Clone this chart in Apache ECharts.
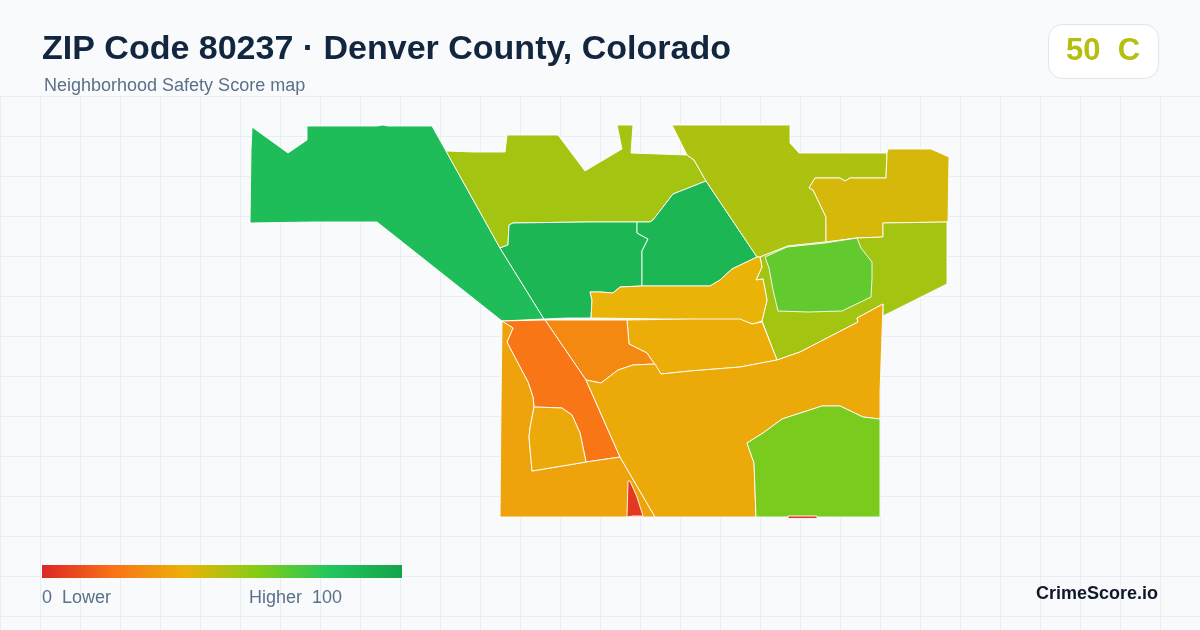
<!DOCTYPE html>
<html><head><meta charset="utf-8">
<style>html,body{margin:0;padding:0;background:#f8fafc}#c{width:1200px;height:630px}</style>
<script src="https://cdn.jsdelivr.net/npm/echarts@6/dist/echarts.min.js"></script>
</head><body><div id="c"></div>
<script>
var titleText = 'ZIP Code 80237 · Denver County, Colorado';
var subtitleText = 'Neighborhood Safety Score map';
var overallScore = 50, overallGrade = 'C';
var brandText = 'CrimeScore.io';
var rampColors = ['#dc2626','#f97316','#eab308','#84cc16','#22c55e','#16a34a'];
var regionNames = ['West','NorthMid','CentralWest','CentralNorth','NorthEast','FarEast','East','EastInner','Band','MidBand','MidWestOrange','WestOrange','SouthWest','SouthWestInner','SouthEastLarge','SouthEastGreen','SouthSliver'];
var regionScores = [85,54,89,89,52,44,54,67,40,38,27,21,35,37,37,62,5];
var regionShapes = {
West:[[[252,127],[288,153],[307,140],[307,126],[377,126],[383,125],[388,126],[432,126],[446,151],[500,248],[544,319],[502,321],[377,222],[313,222],[250,223],[251,150]]],
NorthMid:[[[446,151],[475,152],[505,152],[507,135],[558,135],[585,171],[600,162],[622,149],[617,125],[633,125],[631,153],[659,154],[687,155],[694,160],[706,181],[673,194],[663,207],[653,220],[650,222],[637,222],[600,222],[587,222],[513,223],[509,225],[508,245],[500,248]]],
CentralWest:[[[500,248],[508,245],[509,225],[513,223],[587,222],[637,222],[637,233],[648,239],[642,251],[642,286],[620,287],[613,293],[600,292],[590,292],[592,300],[591,318],[568,318],[544,319]]],
CentralNorth:[[[637,222],[650,222],[653,220],[663,207],[673,194],[706,181],[757,257],[732,269],[720,280],[710,286],[642,286],[642,251],[648,239],[637,233]]],
NorthEast:[[[672,125],[790,125],[790,143],[799,153],[887,153],[886,178],[850,178],[845,181],[840,178],[815,178],[809,188],[813,190],[826,217],[826,242],[788,246],[760,257],[757,257],[706,181],[694,160],[687,155]]],
FarEast:[[[888,149],[931,149],[949,157],[948,222],[883,223],[883,237],[857,238],[826,242],[826,217],[813,190],[809,188],[815,178],[840,178],[845,181],[850,178],[886,178],[887,153]]],
East:[[[760,257],[788,246],[826,242],[857,238],[883,237],[883,223],[947,222],[947,284],[883,316],[883,304],[857,318],[858,322],[800,352],[777,360],[762,321],[767,300],[763,279],[756,280],[762,267]]],
EastInner:[[[765,257],[787,247],[825,243],[857,238],[861,248],[872,262],[872,278],[871,297],[842,311],[808,312],[778,311],[773,290],[769,268]]],
Band:[[[760,257],[757,257],[732,269],[720,280],[710,286],[642,286],[620,287],[613,293],[600,292],[590,292],[592,300],[591,318],[663,319],[740,320],[753,324],[762,321],[767,300],[763,279],[756,280],[762,267]]],
MidBand:[[[627,320],[629,344],[647,353],[653,362],[661,374],[690,371],[740,367],[777,360],[762,322],[752,324],[740,319],[690,319]]],
MidWestOrange:[[[545,320],[627,320],[629,344],[647,353],[653,362],[655,364],[633,365],[618,370],[601,383],[586,380]]],
WestOrange:[[[502,321],[545,320],[586,380],[620,457],[586,462],[580,433],[572,415],[562,408],[534,407],[533,397],[528,382],[510,348],[507,342],[513,328]]],
SouthWest:[[[502,321],[513,328],[507,342],[510,348],[528,382],[533,397],[534,407],[530,428],[529,437],[532,471],[586,462],[620,457],[655,517],[500,517],[501,407]]],
SouthWestInner:[[[534,407],[562,408],[572,415],[580,433],[586,462],[532,471],[529,437],[530,428]]],
SouthEastLarge:[[[586,380],[601,383],[618,370],[633,365],[655,364],[661,374],[690,371],[740,367],[777,360],[800,352],[858,322],[857,318],[883,304],[880,393],[880,419],[863,417],[840,406],[822,406],[782,419],[763,433],[747,443],[754,463],[756,517],[655,517],[620,457]]],
SouthEastGreen:[[[747,443],[763,433],[782,419],[822,406],[840,406],[863,417],[880,419],[880,517],[756,517],[754,463]]],
SouthSliver:[[[628,481],[630,481],[637,497],[643,516],[633,516],[627,517]],[[788,516],[817,516],[817,518.6],[788,518.6]]]
};

var features = regionNames.map(function (n) {
  return {type:'Feature',properties:{name:n},geometry:{type:'MultiPolygon',
    coordinates:regionShapes[n].map(function (r) {
      return [r.map(function (p) { return [p[0], -p[1]]; })];
    })}};
});
echarts.registerMap('zip80237',{type:'FeatureCollection',features:features});

var chart = echarts.init(document.getElementById('c'),null,{renderer:'canvas'});
var font = '"Liberation Sans", Arial, sans-serif';
chart.setOption({
  animation:false,
  backgroundColor:'#f8fafc',
  title:[
    {text:titleText,left:42,top:33,padding:0,textStyle:{fontFamily:font,fontSize:34,fontWeight:'bold',color:'#12263f'}},
    {text:subtitleText,left:44,top:77,padding:0,textStyle:{fontFamily:font,fontSize:18,fontWeight:'normal',color:'#5b7089'}}
  ],
  grid:{left:0,top:96,width:1200,height:534,containLabel:false},
  xAxis:{type:'value',min:0,max:1200,interval:40,axisLine:{show:false},axisTick:{show:false},axisLabel:{show:false},splitLine:{show:true,lineStyle:{color:'#e8eff3',width:1}}},
  yAxis:{type:'value',inverse:true,min:0,max:534,interval:40,axisLine:{show:false},axisTick:{show:false},axisLabel:{show:false},splitLine:{show:true,lineStyle:{color:'#e8eff3',width:1}}},
  visualMap:{type:'continuous',show:false,min:0,max:100,seriesIndex:0,inRange:{color:rampColors}},
  series:[{
    type:'map',map:'zip80237',aspectScale:1,silent:true,roam:false,
    boundingCoords:[[250,-125],[950,-518]],
    left:250,top:125,width:700,height:393,
    label:{show:false},
    itemStyle:{borderColor:'#ffffff',borderWidth:0.9,areaColor:'#eeeeee'},
    emphasis:{disabled:true},select:{disabled:true},
    data:regionNames.map(function (n,i) { return {name:n,value:regionScores[i]}; })
  }],
  graphic:[
    {type:'rect',left:42,top:565,shape:{width:360,height:13},z:10,style:{fill:new echarts.graphic.LinearGradient(0,0,1,0,rampColors.map(function(c,i){return {offset:i/(rampColors.length-1),color:c};}))}},
    {type:'rect',left:1048,top:24,shape:{width:110,height:54,r:14},style:{fill:'#ffffff',stroke:'#dfe5ee',lineWidth:1},z:10},
    {type:'text',left:1066,top:36,style:{text:overallScore+'  '+overallGrade,fontFamily:font,fontSize:31,fontWeight:'bold',fill:'#b5bf10'},z:11},
    {type:'text',left:42,top:589,style:{text:'0  Lower',fontFamily:font,fontSize:18,fill:'#5b7089'},z:11},
    {type:'text',left:249,top:589,style:{text:'Higher  100',fontFamily:font,fontSize:18,fill:'#5b7089'},z:11},
    {type:'text',right:42,top:585,style:{text:brandText,fontFamily:font,fontSize:18,fontWeight:'bold',fill:'#0f172a'},z:11}
  ]
});
</script></body></html>
